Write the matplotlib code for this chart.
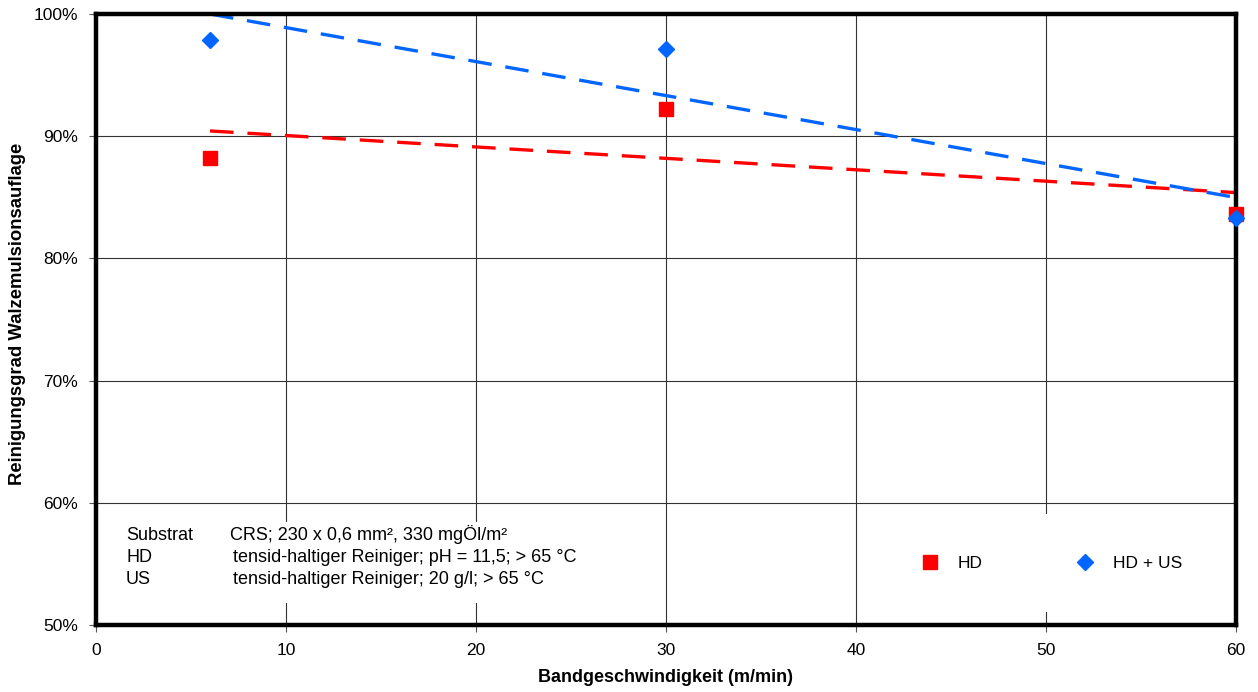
import numpy as np
import matplotlib.pyplot as plt
from matplotlib.ticker import PercentFormatter

plt.rcParams['font.family'] = ['Liberation Sans', 'DejaVu Sans']
plt.rcParams['lines.scale_dashes'] = False

geschw = [6, 30, 60]
hd = [88.2, 92.2, 83.6]
hd_us = [97.9, 97.1, 83.3]
labels = ["HD", "HD + US"]
info = [("Substrat", "CRS; 230 x 0,6 mm², 330 mgÖl/m²"),
        ("HD", "tensid-haltiger Reiniger; pH = 11,5; > 65 °C"),
        ("US", "tensid-haltiger Reiniger; 20 g/l; > 65 °C")]

fig = plt.figure(figsize=(12.58, 6.92), dpi=100)
ax = fig.add_axes([96/1258, 1-625/692, 1140/1258, 611/692])

rot = '#ff0000'
blau = '#0066ff'
fs = 12.5

x = np.array(geschw, dtype=float)
xt = np.array([x.min(), x.max()])
for werte, farbe in [(hd, rot), (hd_us, blau)]:
    k, d = np.polyfit(x, werte, 1)
    ax.plot(xt, k * xt + d, color=farbe, lw=2.4, dashes=(17, 10), zorder=3,
            clip_on=False)

ax.plot(geschw, hd, 's', color=rot, ms=10.5, label=labels[0], zorder=6, clip_on=False)
ax.plot(geschw, hd_us, 'D', color=blau, ms=8.5, label=labels[1], zorder=7, clip_on=False)

ax.set_xlim(0, 60)
ax.set_ylim(50, 100)
ax.set_xticks(range(0, 61, 10))
ax.set_yticks(range(50, 101, 10))
ax.yaxis.set_major_formatter(PercentFormatter(decimals=0))
ax.grid(True, color='#333333', lw=0.8, zorder=0)
ax.set_axisbelow(True)
for s in ax.spines.values():
    s.set_linewidth(3.2)
    s.set_zorder(5)
ax.tick_params(direction='out', length=5, width=0.8, color='#555555',
               labelsize=fs, pad=8)

ax.set_xlabel("Bandgeschwindigkeit (m/min)", fontsize=13, fontweight='bold', labelpad=8)
ax.set_ylabel("Reinigungsgrad Walzemulsionsauflage", fontsize=13.3, fontweight='bold', labelpad=5)
ax.yaxis.label.set_y(0.51)

# Infotext mit weissem Hintergrund (deckt Gitter ab)
ax.add_patch(plt.Rectangle((1.2, 51.8), 26.5, 6.6, facecolor='white', edgecolor='none', zorder=2))
for i, (a, b) in enumerate(info):
    yy = 535 + i * 22
    fig.text(126/1258, 1 - yy/692, a, fontsize=13, va='center')
    fig.text((230 + (3 if i else 0))/1258, 1 - yy/692, b, fontsize=13, va='center')

leg = ax.legend(loc='center', bbox_to_anchor=(1047/1258, 1 - 563/692),
                bbox_transform=fig.transFigure, ncol=2,
                frameon=True, fontsize=fs, handletextpad=0.6, columnspacing=4.9,
                borderpad=2.4)
leg.get_frame().set_edgecolor('none')
leg.get_frame().set_facecolor('white')
leg.get_frame().set_alpha(1)
leg.set_zorder(2)

fig.savefig('out.png', dpi=100)
